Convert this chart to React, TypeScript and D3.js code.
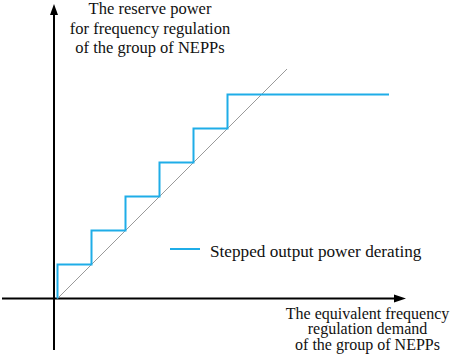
import React, { useRef, useEffect } from 'react';
import * as d3 from 'd3';

// demand (x) where the stepped output jumps, and the level it reaches
const stepX = [0, 1, 2, 3, 4, 5, 9.75];
const stepY = [0, 1, 2, 3, 4, 5, 6];
// reference diagonal (demand == reserve)
const diagX = [0, 6.75];
const diagY = [0, 6.75];

const yLabel = ['The reserve power', 'for frequency regulation', 'of the group of NEPPs'];
const xLabel = ['The equivalent frequency', 'regulation demand', 'of the group of NEPPs'];
const legendLabel = 'Stepped output power derating';

export default function App() {
  const svgRef = useRef(null);

  useEffect(() => {
    const w = 457;
    const h = 357;
    const blue = '#1fade8';
    const font = "'Liberation Serif', 'Times New Roman', Times, serif";

    const svg = d3.select(svgRef.current);
    svg.selectAll('*').remove();
    svg.attr('width', w).attr('height', h);

    svg.append('rect').attr('width', w).attr('height', h).attr('fill', '#fff');

    // scales: one unit = one step
    const x = d3.scaleLinear().domain([0, 10]).range([57.5, 397.5]);
    const y = d3.scaleLinear().domain([0, 7]).range([298.5, 60.5]);

    // axes with arrows
    const axisX = 54;
    const axisY = 298.5;
    const axes = svg.append('g').attr('stroke', '#000').attr('stroke-width', 2);
    axes.append('line').attr('x1', 2).attr('x2', 396).attr('y1', axisY).attr('y2', axisY);
    axes.append('line').attr('x1', axisX).attr('x2', axisX).attr('y1', 350).attr('y2', 14);
    svg
      .append('path')
      .attr('d', `M${axisX},4 L${axisX - 4},15 L${axisX + 4},15 Z`)
      .attr('fill', '#000');
    svg
      .append('path')
      .attr('d', `M406,${axisY} L394,${axisY - 4} L394,${axisY + 4} Z`)
      .attr('fill', '#000');

    // diagonal
    const diagLine = d3
      .line()
      .x((d) => x(d[0]))
      .y((d) => y(d[1]));
    svg
      .append('path')
      .attr('d', diagLine(diagX.map((v, i) => [v, diagY[i]])))
      .attr('fill', 'none')
      .attr('stroke', '#9a9a9a')
      .attr('stroke-width', 1);

    // stepped output
    const stepLine = d3
      .line()
      .x((d) => x(d[0]))
      .y((d) => y(d[1]))
      .curve(d3.curveStepBefore);
    svg
      .append('path')
      .attr('d', stepLine(stepX.map((v, i) => [v, stepY[i]])))
      .attr('fill', 'none')
      .attr('stroke', blue)
      .attr('stroke-width', 2);

    // legend
    svg
      .append('line')
      .attr('x1', 170)
      .attr('x2', 200)
      .attr('y1', 249)
      .attr('y2', 249)
      .attr('stroke', blue)
      .attr('stroke-width', 2);
    svg
      .append('text')
      .attr('x', 210)
      .attr('y', 257)
      .style('font-family', font)
      .style('font-size', '17.2px')
      .attr('fill', '#111')
      .text(legendLabel);

    // axis titles
    svg
      .append('g')
      .selectAll('text')
      .data(yLabel)
      .join('text')
      .attr('x', 150)
      .attr('y', (d, i) => 14 + i * 19.5)
      .attr('text-anchor', 'middle')
      .style('font-family', font)
      .style('font-size', '16.5px')
      .attr('fill', '#111')
      .text((d) => d);

    svg
      .append('g')
      .selectAll('text')
      .data(xLabel)
      .join('text')
      .attr('x', 367.5)
      .attr('y', (d, i) => 318.5 + i * 15.8)
      .attr('text-anchor', 'middle')
      .style('font-family', font)
      .style('font-size', '16px')
      .attr('fill', '#111')
      .text((d) => d);
  }, []);

  return (
    <svg
      ref={svgRef}
      style={{ position: 'absolute', left: 0, top: 0, display: 'block' }}
    ></svg>
  );
}
